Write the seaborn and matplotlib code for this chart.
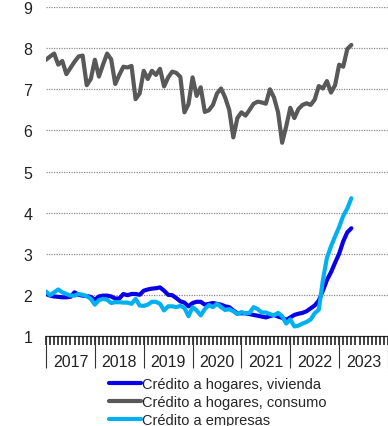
import numpy as np
import pandas as pd
import matplotlib
matplotlib.use('Agg')
import matplotlib.pyplot as plt
import seaborn as sns

# monthly data, Jan 2017 - Apr 2023
vivienda = [2.02, 1.98, 1.96, 1.95, 1.94, 1.94, 1.95, 2.06, 2.00, 1.98, 1.97, 1.95,
            1.88, 1.96, 1.98, 1.98, 1.96, 1.91, 1.91, 2.02, 1.99, 2.02, 2.02, 2.00,
            2.10, 2.13, 2.15, 2.16, 2.18, 2.10, 2.00, 1.99, 1.92, 1.84, 1.81, 1.72,
            1.80, 1.83, 1.83, 1.76, 1.78, 1.80, 1.78, 1.76, 1.72, 1.70, 1.62, 1.55,
            1.55, 1.55, 1.53, 1.51, 1.49, 1.47, 1.45, 1.48, 1.51, 1.47, 1.44, 1.39,
            1.45, 1.51, 1.54, 1.56, 1.60, 1.67, 1.74, 1.86, 2.10, 2.36, 2.55, 2.78,
            3.00, 3.30, 3.52, 3.62]
consumo = [7.72, 7.80, 7.87, 7.60, 7.69, 7.37, 7.52, 7.67, 7.80, 7.82, 7.10, 7.25,
           7.72, 7.31, 7.60, 7.87, 7.73, 7.13, 7.35, 7.55, 7.53, 7.57, 6.76, 6.90,
           7.45, 7.25, 7.45, 7.35, 7.50, 7.07, 7.29, 7.43, 7.40, 7.30, 6.44, 6.64,
           7.29, 6.84, 7.05, 6.45, 6.49, 6.62, 6.90, 7.02, 6.80, 6.50, 5.83, 6.30,
           6.44, 6.36, 6.50, 6.65, 6.70, 6.68, 6.65, 7.00, 6.80, 6.44, 5.70, 6.10,
           6.55, 6.30, 6.52, 6.62, 6.66, 6.62, 6.75, 7.08, 7.02, 7.20, 6.92, 7.10,
           7.60, 7.55, 7.98, 8.08]
empresas = [2.08, 1.99, 2.06, 2.13, 2.06, 2.02, 1.98, 1.98, 2.02, 2.00, 1.97, 1.90,
            1.76, 1.87, 1.90, 1.88, 1.80, 1.82, 1.82, 1.81, 1.81, 1.78, 1.90, 1.74,
            1.73, 1.76, 1.83, 1.83, 1.78, 1.62, 1.72, 1.72, 1.70, 1.73, 1.68, 1.48,
            1.70, 1.62, 1.50, 1.65, 1.75, 1.70, 1.78, 1.70, 1.63, 1.65, 1.60, 1.53,
            1.58, 1.55, 1.56, 1.70, 1.65, 1.57, 1.57, 1.53, 1.50, 1.56, 1.48, 1.30,
            1.40, 1.23, 1.25, 1.30, 1.34, 1.40, 1.55, 1.64, 2.35, 2.90, 3.18, 3.42,
            3.65, 3.92, 4.10, 4.35]

series = ['Crédito a hogares, vivienda', 'Crédito a hogares, consumo', 'Crédito a empresas']
colors = ['#0a00e8', '#595959', '#00b0f0']
years = [2017, 2018, 2019, 2020, 2021, 2022, 2023]

t = 2017 + np.arange(len(vivienda)) / 12
df = pd.DataFrame({'t': t, series[0]: vivienda, series[1]: consumo, series[2]: empresas})
long = df.melt(id_vars='t', var_name='serie', value_name='valor')

sns.set_style('white')
plt.rcParams['font.family'] = ['Liberation Sans', 'DejaVu Sans']

fig = plt.figure(figsize=(3.88, 4.27), dpi=100)
ax = fig.add_axes([0.1186, 0.211, 0.8814, 0.770])

sns.lineplot(data=long, x='t', y='valor', hue='serie', hue_order=series,
             palette=colors, linewidth=3, ax=ax, legend=False)

ax.set_xlim(2017, 2024)
ax.set_ylim(1, 9)
ax.set_xlabel('')
ax.set_ylabel('')

ax.set_yticks(range(1, 10))
ax.tick_params(axis='y', length=0, pad=10, labelsize=11.5, labelcolor='#222222')
for y in range(2, 10):
    ax.axhline(y, color='#8c8c8c', linestyle=(0, (1, 1)), linewidth=0.9, zorder=0)

# x axis: monthly comb + long separators at year boundaries, year labels between
ax.set_xticks([])
months = [2017 + k / 12 for k in range(7 * 12 + 1)]
xt = ax.get_xaxis_transform()
ax.vlines(months, -0.028, 0, transform=xt, colors='#111111', linewidth=1.1,
          clip_on=False, zorder=5)
ax.vlines(years + [2024], -0.098, 0, transform=xt, colors='#333333', linewidth=0.8,
          clip_on=False, zorder=5)
for yr in years:
    ax.text(yr + 0.5, -0.077, str(yr), transform=xt,
            ha='center', va='center', fontsize=11.5, color='#222222')

for s in ['left', 'top', 'right']:
    ax.spines[s].set_visible(False)
ax.spines['bottom'].set_color('#333333')
ax.spines['bottom'].set_linewidth(0.9)

handles = [plt.Line2D([], [], color=c, linewidth=3) for c in colors]
fig.legend(handles, series, loc='upper left', bbox_to_anchor=(0.282, 0.115),
           frameon=False, fontsize=10.5, handlelength=2.2, handletextpad=0.05,
           labelspacing=0.27, borderpad=0, borderaxespad=0)

fig.savefig('out.png', dpi=100)
